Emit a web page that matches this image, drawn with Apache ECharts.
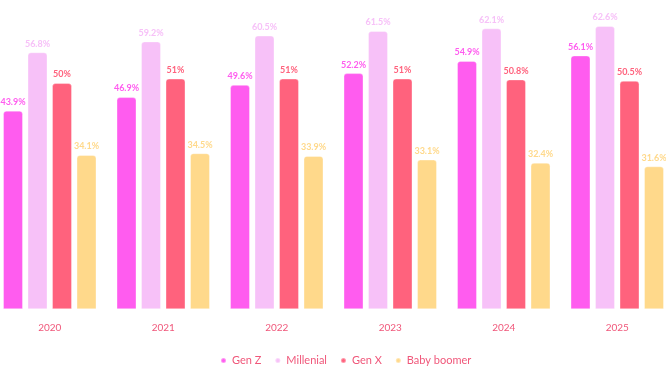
<!DOCTYPE html>
<html>
<head>
<meta charset="utf-8">
<style>html,body{margin:0;padding:0;background:#fff;overflow:hidden;}#c{width:681px;height:367px;margin-left:-7px;}</style>
<script src="https://cdn.jsdelivr.net/npm/echarts@6/dist/echarts.min.js"></script>
</head>
<body>
<div id="c"></div>
<script>
const categories = ['2020','2021','2022','2023','2024','2025'];
const genZ = [43.9, 46.9, 49.6, 52.2, 54.9, 56.1];
const millenial = [56.8, 59.2, 60.5, 61.5, 62.1, 62.6];
const genX = [50, 51, 51, 51, 50.8, 50.5];
const babyBoomer = [34.1, 34.5, 33.9, 33.1, 32.4, 31.6];
const seriesNames = ['Gen Z', 'Millenial', 'Gen X', 'Baby boomer'];
const colors = ['#ff5cef', '#f7c1f8', '#ff627d', '#ffd98b'];
const values = [genZ, millenial, genX, babyBoomer];

const chart = echarts.init(document.getElementById('c'));
chart.setOption({
  animation: false,
  textStyle: { fontFamily: 'Lato' },
  grid: { left: 0, right: 0, top: 1.6, bottom: 57.7, containLabel: false },
  legend: {
    left: 227, top: 355, padding: 0,
    icon: 'circle', itemWidth: 5, itemHeight: 5, itemGap: 13,
    textStyle: { color: '#f0577a', fontSize: 11, fontFamily: 'Lato', padding: [0, 0, 0, 1] },
    data: seriesNames
  },
  xAxis: {
    type: 'category', data: categories,
    axisLine: { show: false }, axisTick: { show: false },
    axisLabel: { color: '#f0577a', fontSize: 10, margin: 13, fontFamily: 'Lato' }
  },
  yAxis: { type: 'value', min: 0, max: 68, show: false, splitLine: { show: false } },
  series: values.map((v, i) => ({
    name: seriesNames[i], type: 'bar', data: v,
    barWidth: 20, barGap: '22.5%',
    itemStyle: { color: colors[i], borderRadius: [3, 3, 0, 0], borderColor: 'rgba(255,255,255,0.35)', borderWidth: 1 },
    label: {
      show: true, position: 'top', distance: 4,
      formatter: p => p.value + '%',
      color: colors[i], fontSize: 9, fontWeight: 'bold', fontFamily: 'Lato'
    }
  }))
});
</script>
</body>
</html>
